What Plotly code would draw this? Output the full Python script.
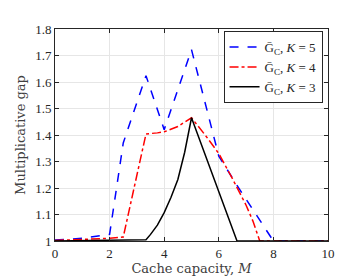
import plotly.graph_objects as go

# Data
K5_M = [0, 1, 2, 2.5, 3.333, 4, 5, 6, 6.667, 8, 9, 10]
K5_G = [1.004, 1.01, 1.025, 1.37, 1.624, 1.42, 1.722, 1.32, 1.21, 1.0, 1.0, 1.0]

K4_M = [0, 1, 2, 2.5, 3.333, 3.75, 4, 4.5, 5, 5.5, 6, 6.5, 7, 7.25, 7.5, 8, 9, 10]
K4_G = [1.002, 1.005, 1.01, 1.015, 1.404, 1.408, 1.412, 1.432, 1.465, 1.40, 1.33, 1.235, 1.135, 1.075, 1.0, 1.0, 1.0, 1.0]

K3_M = [0, 1, 2, 3.333, 3.5, 3.75, 4, 4.25, 4.5, 4.75, 5, 6.667, 8, 10]
K3_G = [1.0, 1.001, 1.003, 1.005, 1.025, 1.06, 1.107, 1.165, 1.232, 1.335, 1.465, 1.0, 1.0, 1.0]

x_ticks = [0, 2, 4, 6, 8, 10]
y_ticks = [1, 1.1, 1.2, 1.3, 1.4, 1.5, 1.6, 1.7, 1.8]
y_tick_text = ["1", "1.1", "1.2", "1.3", "1.4", "1.5", "1.6", "1.7", "1.8"]

FONT = "Liberation Serif, Times New Roman, serif"
WIDE = "DejaVu Serif, serif"
GB = "G\u0304<sub>C</sub>, <i>K</i> = "

fig = go.Figure()
fig.add_trace(go.Scatter(x=K5_M, y=K5_G, mode="lines", name=GB + "5",
                         line=dict(color="#0000ff", width=1.5, dash="dash")))
fig.add_trace(go.Scatter(x=K4_M, y=K4_G, mode="lines", name=GB + "4",
                         line=dict(color="#ff0000", width=1.5, dash="dashdot")))
fig.add_trace(go.Scatter(x=K3_M, y=K3_G, mode="lines", name=GB + "3",
                         line=dict(color="#000000", width=1.5, dash="solid")))

axis_common = dict(
    showgrid=True, gridcolor="#e6e6e6", gridwidth=1,
    showline=True, linecolor="#262626", linewidth=1, mirror="ticks",
    ticks="inside", ticklen=4, tickcolor="#262626",
    zeroline=False,
    tickfont=dict(family=FONT, size=13, color="#262626"),
)

fig.update_layout(
    width=354, height=278,
    margin=dict(l=46, r=34, t=21, b=37),
    paper_bgcolor="white", plot_bgcolor="white",
    font=dict(family=FONT, size=13, color="#262626"),
    showlegend=True,
    legend=dict(x=0.98, y=0.99, xanchor="right", yanchor="top",
                bgcolor="white", bordercolor="#262626", borderwidth=1,
                font=dict(family=FONT, size=13, color="#262626"),
                itemwidth=30, tracegroupgap=0),
    xaxis=dict(range=[0, 10], tickvals=x_ticks,
               title=dict(text="Cache capacity, <i>M</i>", standoff=4,
                          font=dict(family=WIDE, size=13, color="#404040")),
               **axis_common),
    yaxis=dict(range=[1, 1.8], tickvals=y_ticks, ticktext=y_tick_text,
               title=dict(text="Multiplicative gap", standoff=6,
                          font=dict(family=WIDE, size=13, color="#404040")),
               **axis_common),
)

fig.write_html("out.html")
